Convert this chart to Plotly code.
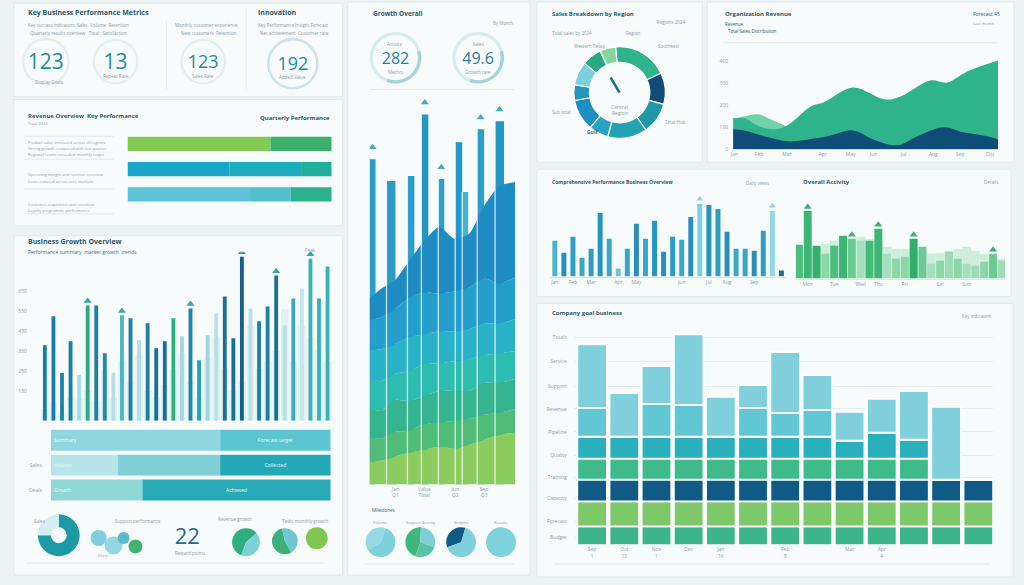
import plotly.graph_objects as go
import numpy as np

W, H = 1024, 585
FONT = "Open Sans"
GRAY = "#8b9ca5"
DARK = "#2e5667"

# ====================== DATA ======================
kpi_values = [123, 13, 123, 192]
kpi_labels = ["Display Goals", "Repeat Rate", "Sales Rate", "Added Value"]

perf_rows = ["Product sales", "Operating margin", "Customer growth"]
perf_part_a = [70, 50, 60]
perf_part_b = [30, 35, 20]
perf_part_c = [0, 15, 20]

growth_periods = list(range(1, 35))
growth_values = [380, 525, 240, 400, 230, 580, 580, 340, 240, 530, 515, 405, 490, 365, 400,
                 515, 425, 565, 305, 430, 540, 625, 415, 825, 565, 500, 575, 730, 480, 615,
                 665, 815, 615, 775]
growth_target = [60, 90, 40, 120, 110, 150, 100, 250, 120, 300, 200, 330, 150, 120, 180,
                 260, 340, 200, 120, 320, 420, 260, 150, 200, 480, 260, 300, 350, 560, 300,
                 480, 420, 360, 300]
growth_ticks = [150, 250, 350, 450, 550, 650]
growth_flags = [5, 9, 17, 23, 27, 31]

mix_rows = ["Leads", "Sales", "Deals"]
mix_a = [170, 67, 92]
mix_b = [111, 103, 189]
mix_c = [0, 111, 0]

share_main = [75, 25]
bubble_x = [1.0, 2.5, 3.5, 4.7]
bubble_y = [1.8, 1.1, 1.8, 1.0]
bubble_size = [16, 18, 12, 14]
reward_points = 22
revenue_split = [58, 42]
tasks_split = [55, 45]
growth_single = [1]

overall_kpis = [282, 49.6]
week_x = [0, 12, 25, 40, 55, 70, 85, 100, 115, 130, 146]
band_lime = [22, 24, 28, 32, 35, 38, 36, 40, 45, 50, 52]
band_green = [25, 22, 25, 22, 26, 24, 28, 26, 25, 22, 24]
band_jade = [30, 28, 32, 30, 28, 32, 30, 28, 32, 30, 30]
band_teal = [28, 30, 26, 30, 32, 28, 30, 32, 28, 30, 28]
band_cyan = [30, 32, 30, 34, 30, 32, 30, 30, 32, 30, 32]
band_azure = [30, 32, 35, 40, 42, 38, 40, 42, 45, 40, 42]
band_blue = [22, 29, 29, 37, 52, 67, 53, 54, 73, 98, 96]
column_x = [3, 21.5, 41.5, 55.5, 72, 89.5, 96, 111.5, 130.5]
column_h = [327, 305, 310, 372, 307, 344, 294, 357, 365]
column_flags = [0, 3, 4, 7, 8]
milestone_volume = [60, 40]
milestone_support = [45, 30, 25]
milestone_insights = [35, 65]
milestone_results = [1]

region_labels = ["Central", "North", "East", "Southeast", "South", "Gulf",
                 "Southwest", "West", "Northwest", "Pacific"]
region_values = [70, 40, 40, 50, 25, 40, 20, 30, 25, 20]

rev_total_x = [0, 11, 26, 38, 53, 78, 91, 120, 153, 168, 198, 215, 235, 266]
rev_total = [141, 141, 105, 91, 105, 195, 214, 282, 227, 241, 314, 305, 355, 405]
rev_prior_x = [0, 11, 26, 38, 53]
rev_prior = [141, 150, 159, 136, 105]
rev_core_x = [0, 11, 35, 55, 75, 95, 120, 141, 165, 185, 211, 231, 255, 266]
rev_core = [91, 86, 55, 36, 45, 59, 86, 45, 18, 59, 100, 77, 59, 45]
rev_ticks = [0, 100, 200, 300, 400]
rev_month_pos = [1, 26, 54, 90, 118, 141, 171, 201, 228, 258]
rev_months = ["Jan", "Feb", "Mar", "Apr", "May", "Jun", "Jul", "Aug", "Sep", "Oct"]

views_days = list(range(1, 27))
views_values = [36, 24, 40, 19, 28, 64, 38, 8, 28, 53, 38, 56, 25, 40, 37, 60, 73, 72,
                68, 45, 28, 28, 26, 46, 66, 6]
views_flags = [16, 24]

activity_days = list(range(1, 25))
activity_values = [34, 68, 33, 25, 33, 43, 40, 38, 38, 50, 25, 20, 22, 40, 32, 15, 18, 27,
                   20, 15, 13, 17, 25, 18]
activity_base = [30, 30, 30, 35, 38, 40, 38, 42, 40, 38, 32, 30, 30, 30, 28, 25, 26, 28,
                 30, 32, 28, 25, 22, 20]
activity_flags = [1, 6, 9, 13, 22]

goal_periods = list(range(1, 14))
goal_base = [19] * 13
goal_lime = [25] * 13
goal_navy = [22] * 13
goal_green = [21] * 11 + [0, 0]
goal_teal = [22, 22, 22, 22, 22, 22, 22, 22, 18, 26, 19, 0, 0]
goal_aqua = [29, 0, 33, 32, 0, 29, 24, 27, 0, 0, 0, 0, 0]
goal_sky = [64, 44, 38, 71, 40, 23, 61, 35, 29, 34, 49, 73, 0]
goal_labels = ["Budget", "Forecast", "Capacity", "Training", "Quality", "Pipeline",
               "Revenue", "Support", "Service", "Totals"]
goal_ticks = [8, 24, 47, 68, 90, 114, 137, 160, 185, 209]
goal_month_pos = [1, 2, 3, 4, 5, 7, 9, 10]
goal_months = ["Sep<br>1", "Oct<br>13", "Nov<br>1", "Dec", "Jan<br>16", "Feb<br>8", "Mar", "Apr<br>4"]

# ====================== HELPERS ======================
def xd(x0, x1):
    return [x0 / W, x1 / W]


def yd(y0, y1):
    return [1 - y1 / H, 1 - y0 / H]


def ax(domain, rng, anchor, **kw):
    d = dict(domain=domain, range=rng, anchor=anchor, showgrid=False, zeroline=False,
             showline=False, showticklabels=False, ticks="", fixedrange=True)
    d.update(kw)
    return d


def ann(x, y, text, size=5, color=GRAY, xanchor="left", bold=False):
    return dict(x=x / W, y=1 - y / H, xref="paper", yref="paper",
                text=f"<b>{text}</b>" if bold else text, showarrow=False,
                font=dict(size=size, color=color, family=FONT),
                xanchor=xanchor, yanchor="middle")


def rect(x0, y0, x1, y1, fill="#f8fbfc"):
    return dict(type="rect", xref="paper", yref="paper", x0=x0 / W, x1=x1 / W,
                y0=1 - y1 / H, y1=1 - y0 / H, fillcolor=fill,
                line=dict(color="#e0e9ec", width=1), layer="below")


def hline(x0, x1, y, color="#e1e9ec", width=1):
    return dict(type="line", xref="paper", yref="paper", x0=x0 / W, x1=x1 / W,
                y0=1 - y / H, y1=1 - y / H, line=dict(color=color, width=width), layer="below")


def vline(x, y0, y1, color="#e6eef0", width=1):
    return dict(type="line", xref="paper", yref="paper", x0=x / W, x1=x / W,
                y0=1 - y1 / H, y1=1 - y0 / H, line=dict(color=color, width=width), layer="below")


def pie(values, colors, cx, cy, r, hole=0.0, rotation=0, line_w=0.0):
    return go.Pie(values=values, marker=dict(colors=colors, line=dict(color="white", width=line_w)),
                  domain=dict(x=xd(cx - r, cx + r), y=yd(cy - r, cy + r)), hole=hole,
                  sort=False, direction="clockwise", rotation=rotation,
                  textinfo="none", hoverinfo="skip", showlegend=False)


def number(value, cx, cy, size, color, wpx=34, hpx=12):
    return go.Indicator(mode="number", value=value,
                        number=dict(font=dict(size=size, color=color, family=FONT)),
                        domain=dict(x=xd(cx - wpx, cx + wpx), y=yd(cy - hpx, cy + hpx)))


fig = go.Figure()
traces = []

# ---------- Panel A: KPI rings + numbers ----------
kpi_pos = [(42, 62, 24, 21), (112, 62, 23, 21), (200, 62, 23, 18), (290, 64, 26, 18)]
ring_cols = ["#e4eef1", "#e4eef1", "#e4eef1", "#cfe3e7"]
for (cx, cy, r, fs), val, rc in zip(kpi_pos, kpi_values, ring_cols):
    traces.append(pie([1], [rc], cx, cy, r, hole=0.9))
    traces.append(number(val, cx, cy - 1, fs, "#1f8c9e", wpx=22, hpx=9))

# ---------- Panel B: horizontal performance bars ----------
for vals, base, cols in [
    (perf_part_a, [0, 0, 0], ["#82c955", "#19a6c9", "#5cc4d6"]),
    (perf_part_b, perf_part_a, ["#3cb06b", "#1badbb", "#50c1cc"]),
    (perf_part_c, list(np.add(perf_part_a, perf_part_b)), ["#3cb06b", "#20b09a", "#2cb38c"]),
]:
    traces.append(go.Bar(y=perf_rows, x=vals, base=base, orientation="h", width=0.56,
                         marker=dict(color=cols, line=dict(width=0)),
                         xaxis="x9", yaxis="y9", hoverinfo="skip"))

# ---------- Panel C: growth bars ----------
growth_cols = ["#1a7ea6", "#1a7ea6", "#1f86a8", "#1a7ea6", "#a9dce3", "#2fa886", "#1f7fa5",
               "#1f8aab", "#b5e0e6", "#49b8c4", "#1f7fa5", "#b4dde4", "#1f7fa5", "#1a6f98",
               "#1a6f98", "#2fae83", "#a5d8df", "#1f86a8", "#2aa0bd", "#9ed5df", "#b8e2e8",
               "#1a6f98", "#1a6f98", "#14628c", "#b8e2e8", "#1f7fa5", "#1f7fa5", "#1a6f98",
               "#b5e0e6", "#3aa9bf", "#c5e6ea", "#3ab3b4", "#3ab3b4", "#3ab3b4"]
traces.append(go.Bar(x=growth_periods, y=growth_target, width=0.9,
                     marker=dict(color="#e1f2f4", line=dict(width=0)),
                     xaxis="x", yaxis="y", hoverinfo="skip"))
traces.append(go.Bar(x=growth_periods, y=growth_values, width=0.45,
                     marker=dict(color=growth_cols, line=dict(width=0)),
                     xaxis="x", yaxis="y", hoverinfo="skip"))
traces.append(go.Scatter(x=[growth_periods[i] for i in growth_flags],
                         y=[growth_values[i] + 22 for i in growth_flags], mode="markers",
                         marker=dict(symbol="triangle-up", size=7, color="#3aa69b"),
                         xaxis="x", yaxis="y", hoverinfo="skip"))

# ---------- Panel C: stacked mix bars ----------
mix_base_b = mix_a
mix_base_c = list(np.add(mix_a, mix_b))
for vals, base, cols, txt, anchor in [
    (mix_a, [0, 0, 0], ["#8fd6e0", "#b6e4e9", "#8fd7d5"], ["Summary", "Volume", "Growth"], "start"),
    (mix_b, mix_base_b, ["#5cc5d2", "#7fd0d6", "#27a9b6"], ["Forecast target", "", "Achieved"], "middle"),
    (mix_c, mix_base_c, ["#23a8b8", "#23a8b8", "#23a8b8"], ["", "Collected", ""], "middle"),
]:
    traces.append(go.Bar(y=mix_rows, x=vals, base=base, orientation="h", width=0.84,
                         marker=dict(color=cols, line=dict(width=0)), text=txt,
                         textposition="inside", insidetextanchor=anchor,
                         textfont=dict(size=5, color="#eaf8fa", family=FONT),
                         xaxis="x2", yaxis="y2", hoverinfo="skip"))

# ---------- Panel C: small charts ----------
traces.append(pie(share_main, ["#1b9aa5", "#d5eef0"], 55, 538, 21, hole=0.38))
traces.append(go.Scatter(x=bubble_x, y=bubble_y, mode="markers",
                         marker=dict(size=bubble_size, color=["#7ccbdb", "#8fd3e0", "#4fb6c9", "#3aad6e"],
                                     opacity=0.95, line=dict(width=0)),
                         xaxis="x3", yaxis="y3", hoverinfo="skip"))
traces.append(number(reward_points, 184, 538, 22, "#1d6d96", wpx=20, hpx=10))
traces.append(pie(revenue_split, ["#2daf80", "#7fcfd6"], 243, 545, 14, rotation=200))
traces.append(pie(tasks_split, ["#3bb07a", "#6fc6d1"], 282, 544, 13, rotation=150))
traces.append(pie(growth_single, ["#80c74f"], 314, 541, 11))

# ---------- Panel D: KPI rings ----------
for (cx, cy), val in zip([(393, 58), (476, 58)], overall_kpis):
    traces.append(pie([65, 35], ["#d8ecef", "#a4d3d9"], cx, cy, 26, hole=0.87, rotation=200))
    traces.append(number(val, cx, cy, 16, "#2b7f99", wpx=18, hpx=7))

# ---------- Panel D: columns + layered area ----------
column_cols = ["#2a9fc9", "#2b9cc4", "#2a9fc9", "#2496c3", "#2aa3c9", "#2497c4", "#43b5d0",
               "#2a9fc9", "#2496c3"]
column_w = [6, 9, 7, 7, 6, 7, 6, 7, 9]
traces.append(go.Bar(x=column_x, y=column_h, width=column_w,
                     marker=dict(color=column_cols, line=dict(width=0)),
                     xaxis="x4", yaxis="y4", hoverinfo="skip"))
band_cols = ["#8ccb5e", "#4fbc78", "#34b58f", "#2fbcb0", "#2ab2c8", "#249fcb", "#1e8cc2"]
for band, col in zip([band_lime, band_green, band_jade, band_teal, band_cyan, band_azure, band_blue],
                     band_cols):
    traces.append(go.Scatter(x=week_x, y=band, stackgroup="d", mode="lines",
                             line=dict(width=0, shape="spline", smoothing=0.6),
                             fillcolor=col, xaxis="x4", yaxis="y4", hoverinfo="skip"))
sep_x, sep_y = [], []
for cx, w, h in zip(column_x[1:], column_w[1:], column_h[1:]):
    e = cx - w / 2
    sep_x += [e, e, None]
    sep_y += [0, h, None]
traces.append(go.Scatter(x=sep_x, y=sep_y, mode="lines", line=dict(color="rgba(255,255,255,0.75)", width=1.3),
                         xaxis="x4", yaxis="y4", hoverinfo="skip"))
traces.append(go.Scatter(x=[column_x[i] for i in column_flags],
                         y=[column_h[i] + 12 for i in column_flags], mode="markers",
                         marker=dict(symbol="triangle-up", size=7, color="#4aa9bf"),
                         xaxis="x4", yaxis="y4", hoverinfo="skip"))

# ---------- Panel D: milestones ----------
traces.append(pie(milestone_volume, ["#7fd0dd", "#95d9e3"], 378, 545, 15, rotation=20))
traces.append(pie(milestone_support, ["#3cb87c", "#7fcfda", "#5cc2a5"], 418, 545, 15, rotation=200))
traces.append(pie(milestone_insights, ["#0f5a84", "#7fcfdc"], 459, 545, 15, rotation=250))
traces.append(pie(milestone_results, ["#7dd2de"], 499, 545, 15))

# ---------- Panel E: region donut ----------
region_cols = ["#2fb38a", "#0f4d77", "#1e98a8", "#21a3b3", "#2aa4c5", "#1e8fc0", "#2396b9",
               "#7dd0dc", "#2aa881", "#84d69c"]
traces.append(pie(region_values, region_cols, 618, 93, 46, hole=0.66, rotation=-5, line_w=1.2))

# ---------- Panel F: revenue area ----------
traces.append(go.Scatter(x=rev_prior_x, y=rev_prior, fill="tozeroy", mode="lines",
                         line=dict(width=0, shape="spline"), fillcolor="#72d0aa",
                         xaxis="x5", yaxis="y5", hoverinfo="skip"))
traces.append(go.Scatter(x=rev_total_x, y=rev_total, fill="tozeroy", mode="lines",
                         line=dict(width=0, shape="spline"), fillcolor="#2fb38b",
                         xaxis="x5", yaxis="y5", hoverinfo="skip"))
traces.append(go.Scatter(x=rev_core_x, y=rev_core, fill="tozeroy", mode="lines",
                         line=dict(width=0, shape="spline"), fillcolor="#0f4c78",
                         xaxis="x5", yaxis="y5", hoverinfo="skip"))

# ---------- Panel G: daily views bars ----------
views_cols = ["#49b3c9", "#2a8fb8", "#2f9cc2", "#3aa6c6", "#2f9cc2", "#2596be", "#3aa6c6",
              "#6fc3d3", "#3aa6c6", "#2a8fb8", "#3aa6c6", "#2596be", "#2a8fb8", "#2f9cc2",
              "#3aa6c6", "#2a8fb8", "#7fd0df", "#2596be", "#2f9cc2", "#2a8fb8", "#3aa6c6",
              "#3aa6c6", "#2a8fb8", "#2f9cc2", "#8fd8e4", "#1f6f95"]
traces.append(go.Bar(x=views_days, y=views_values, width=0.55,
                     marker=dict(color=views_cols, line=dict(width=0)),
                     xaxis="x6", yaxis="y6", hoverinfo="skip"))
traces.append(go.Scatter(x=[views_days[i] for i in views_flags],
                         y=[views_values[i] + 5 for i in views_flags], mode="markers",
                         marker=dict(symbol="triangle-up", size=6, color="#8fd3e0"),
                         xaxis="x6", yaxis="y6", hoverinfo="skip"))

# ---------- Panel G: activity bars ----------
activity_cols = ["#4cbf7e", "#3db574", "#35b06f", "#8dd6a8", "#4cbf7e", "#3db574", "#6ccb95",
                 "#a6dfbd", "#45bb7a", "#3db574", "#a6dfbd", "#8dd6a8", "#8dd6a8", "#2fae6c",
                 "#6ccb95", "#a6dfbd", "#8dd6a8", "#9edbb6", "#8dd6a8", "#a6dfbd", "#9edbb6",
                 "#8dd6a8", "#6ccb95", "#9edbb6"]
traces.append(go.Bar(x=activity_days, y=activity_base, width=1.0,
                     marker=dict(color="#cdeedd", line=dict(width=0)),
                     xaxis="x7", yaxis="y7", hoverinfo="skip"))
traces.append(go.Bar(x=activity_days, y=activity_values, width=0.9,
                     marker=dict(color=activity_cols, line=dict(width=0)),
                     xaxis="x7", yaxis="y7", hoverinfo="skip"))
traces.append(go.Scatter(x=[activity_days[i] for i in activity_flags],
                         y=[activity_values[i] + 4 for i in activity_flags], mode="markers",
                         marker=dict(symbol="triangle-up", size=7, color="#3bb07a"),
                         xaxis="x7", yaxis="y7", hoverinfo="skip"))

# ---------- Panel H: stacked goal bars ----------
goal_layers = [goal_base, goal_lime, goal_navy, goal_green, goal_teal, goal_aqua, goal_sky]
goal_cols = ["#3db58c", "#7dc96a", "#105a86", "#3fba8a", "#2ab0bd", "#62c7d4", "#7fd0dc"]
running = np.zeros(len(goal_periods))
for layer, col in zip(goal_layers, goal_cols):
    traces.append(go.Bar(x=goal_periods, y=layer, base=list(running), width=0.92,
                         marker=dict(color=col, line=dict(color="white", width=1.8)),
                         xaxis="x8", yaxis="y8", hoverinfo="skip"))
    running = running + np.array(layer)

for t in traces:
    fig.add_trace(t)

# ====================== LAYOUT ======================
tick_font = dict(size=5, color=GRAY, family=FONT)
layout = dict(
    width=W, height=H, margin=dict(l=0, r=0, t=0, b=0),
    paper_bgcolor="#edf3f5", plot_bgcolor="rgba(0,0,0,0)",
    showlegend=False, barmode="overlay", font=dict(family=FONT),
    # C growth bars
    xaxis=ax(xd(30, 330), [-0.28, 34.6], "y"),
    yaxis=ax(yd(253, 423), [0, 850], "x", showticklabels=True, tickvals=growth_ticks,
             tickfont=tick_font, ticklabelstandoff=6),
    # C mix bars
    xaxis2=ax(xd(47, 328), [0, 281], "y2"),
    yaxis2=ax(yd(430, 505), None, "x2", type="category", autorange="reversed",
              showticklabels=True, tickvals=mix_rows[1:], ticktext=mix_rows[1:],
              tickfont=tick_font, ticklabelstandoff=8),
    # C bubbles
    xaxis3=ax(xd(85, 145), [0, 6], "y3"),
    yaxis3=ax(yd(528, 560), [0, 3], "x3"),
    # D columns
    xaxis4=ax(xd(367, 513), [0, 146], "y4", showticklabels=True, tickvals=[26, 55, 86, 115],
              ticktext=["Jan<br>Q1", "Value<br>Total", "Jun<br>Q2", "Sep<br>Q3"],
              tickfont=tick_font),
    yaxis4=ax(yd(95, 487), [0, 392], "x4"),
    # F revenue area
    xaxis5=ax(xd(732, 998), [0, 266], "y5", showticklabels=True, tickvals=rev_month_pos,
              ticktext=rev_months, tickfont=tick_font, showline=True, linecolor="#cfdcdf"),
    yaxis5=ax(yd(45, 150), [0, 477], "x5", showticklabels=True, tickvals=rev_ticks,
              tickfont=tick_font, ticklabelstandoff=4),
    # G views
    xaxis6=ax(xd(548, 785), [0.45, 26.5], "y6", showticklabels=True,
              tickvals=[1, 3, 5, 8, 10, 15, 18, 20, 23],
              ticktext=["Jan", "Feb", "Mar", "Apr", "May", "Jun", "Jul", "Aug", "Sep"],
              tickfont=tick_font, showline=True, linecolor="#dde7ea"),
    yaxis6=ax(yd(195, 278), [0, 83], "x6"),
    # G activity
    xaxis7=ax(xd(795, 1005), [0.66, 24.36], "y7", showticklabels=True,
              tickvals=[2, 5, 8, 10, 13, 17, 20],
              ticktext=["Mon", "Tue", "Wed", "Thu", "Fri", "Sat", "Sun"],
              tickfont=tick_font, showline=True, linecolor="#dde7ea"),
    yaxis7=ax(yd(195, 280), [0, 85], "x7"),
    # H goals
    xaxis8=ax(xd(572, 993), [0.43, 13.46], "y8", showticklabels=True, tickvals=goal_month_pos,
              ticktext=goal_months, tickfont=tick_font),
    yaxis8=ax(yd(330, 548), [0, 218], "x8", showticklabels=True, tickvals=goal_ticks,
              ticktext=goal_labels, tickfont=tick_font, showgrid=True, gridcolor="#e6edf0",
              ticklabelstandoff=6),
    # B perf bars
    xaxis9=ax(xd(124, 329), [0, 100], "y9"),
    yaxis9=ax(yd(132, 208), None, "x9", type="category", autorange="reversed"),
)
layout["yaxis2"].pop("range")
layout["yaxis9"].pop("range")

shapes = [
    rect(10, 3, 340, 97), rect(10, 100, 340, 227), rect(10, 237, 340, 578),
    rect(345, 2, 528, 578), rect(535, 2, 701, 163), rect(706, 2, 1014, 163),
    rect(535, 170, 1011, 298), rect(535, 305, 1013, 580),
    vline(163, 20, 90), vline(243, 8, 90),
    hline(20, 110, 137), hline(20, 110, 160), hline(20, 110, 190), hline(20, 110, 215),
    hline(368, 513, 90), hline(362, 513, 567),
    hline(22, 322, 566), hline(552, 990, 567), hline(722, 998, 43),
    dict(type="line", xref="paper", yref="paper", x0=609 / W, y0=1 - 78 / H, x1=618 / W,
         y1=1 - 93 / H, line=dict(color="#17697f", width=2.5)),
]

annotations = [
    # Panel A
    ann(22, 13, "Key Business Performance Metrics", 7, DARK, bold=True),
    ann(22, 25, "Key success indicators  Sales  Volume  Retention", 4.5),
    ann(24, 33, "Quarterly results overview   Total   Satisfaction", 4.5),
    ann(170, 25, "Monthly customer experience", 4.5),
    ann(176, 33, "New customers  Retention", 4.5),
    ann(253, 13, "Innovation", 7, DARK, bold=True),
    ann(253, 25, "Key Performance Insight Forecast", 4.5),
    ann(255, 33, "Net achievement  Customer rate", 4.5),
    ann(45, 82, kpi_labels[0], 4.5, xanchor="center"),
    ann(112, 76, kpi_labels[1], 4.5, xanchor="center"),
    ann(200, 76, kpi_labels[2], 4.5, xanchor="center"),
    ann(290, 77, kpi_labels[3], 4.5, xanchor="center"),
    # Panel B
    ann(22, 117, "Revenue Overview  Key Performance", 6, DARK, bold=True),
    ann(22, 124, "Total 2024", 4, GRAY),
    ann(329, 119, "Quarterly Performance", 6, DARK, xanchor="right", bold=True),
    ann(22, 143, "Product sales increased across all regions", 4, GRAY),
    ann(22, 149, "Strong growth compared with last quarter", 4, GRAY),
    ann(22, 155, "Regional teams exceeded monthly target", 4, GRAY),
    ann(22, 175, "Operating margin and revenue overview", 4, GRAY),
    ann(22, 182, "Costs reduced across core markets", 4, GRAY),
    ann(22, 206, "Customer acquisition and retention", 4, GRAY),
    ann(22, 212, "Loyalty programme performance", 4, GRAY),
    # Panel C
    ann(22, 243, "Business Growth Overview", 7, DARK, bold=True),
    ann(22, 253, "Performance summary  market growth  trends", 5, "#2e6f87"),
    ann(300, 251, "Peak", 4.5, GRAY),
    ann(28, 524, "Sales", 4.5, GRAY),
    ann(135, 524, "Support performance", 4.5, GRAY, xanchor="center"),
    ann(92, 558, "Units", 4, GRAY),
    ann(187, 556, "Reward points", 4.5, GRAY, xanchor="center"),
    ann(232, 522, "Revenue growth", 4.5, GRAY, xanchor="center"),
    ann(302, 524, "Tasks monthly growth", 4.5, GRAY, xanchor="center"),
    # Panel D
    ann(368, 14, "Growth Overall", 6.5, DARK, bold=True),
    ann(513, 23, "By Month", 4.5, GRAY, xanchor="right"),
    ann(393, 44, "Activity", 4.5, GRAY, xanchor="center"),
    ann(393, 72, "Metrics", 4.5, GRAY, xanchor="center"),
    ann(476, 44, "Sales", 4.5, GRAY, xanchor="center"),
    ann(476, 72, "Growth rate", 4.5, GRAY, xanchor="center"),
    ann(367, 513, "Milestones", 4.5, DARK),
    ann(378, 525, "Volume", 4, GRAY, xanchor="center"),
    ann(418, 525, "Support Activity", 4, GRAY, xanchor="center"),
    ann(459, 525, "Insights", 4, GRAY, xanchor="center"),
    ann(499, 525, "Results", 4, GRAY, xanchor="center"),
    # Panel E
    ann(548, 14, "Sales Breakdown by Region", 6, DARK, bold=True),
    ann(686, 22, "Regions 2024", 4.5, GRAY, xanchor="right"),
    ann(548, 33, "Total sales by 2024", 4.5, GRAY),
    ann(622, 33, "Region", 4.5, GRAY),
    ann(655, 46, "Southeast", 4.5, GRAY),
    ann(570, 46, "Western Texas", 4.5, GRAY),
    ann(548, 113, "Sub total", 4.5, GRAY),
    ann(662, 123, "Total Hub", 4.5, GRAY),
    ann(618, 108, "Central", 5, GRAY, xanchor="center"),
    ann(618, 114, "Region", 5, GRAY, xanchor="center"),
    ann(583, 133, "Gulf", 5, "#2e6f87", bold=True),
    # Panel F
    ann(722, 14, "Organization Revenue", 6, DARK, bold=True),
    ann(722, 24, "Revenue", 4.5, DARK),
    ann(725, 31, "Total Sales Distribution", 4.5, DARK),
    ann(1002, 14, "Forecast 45", 5, DARK, xanchor="right"),
    ann(997, 24, "Last month", 4, GRAY, xanchor="right"),
    # Panel G
    ann(548, 183, "Comprehensive Performance Business Overview", 5, DARK, bold=True),
    ann(770, 184, "Daily views", 4.5, GRAY, xanchor="right"),
    ann(800, 183, "Overall Activity", 6, DARK, bold=True),
    ann(1000, 183, "Details", 4.5, GRAY, xanchor="right"),
    # Panel H
    ann(548, 315, "Company goal business", 6, DARK, bold=True),
    ann(993, 318, "Key indicators", 4.5, GRAY, xanchor="right"),
]

layout["shapes"] = shapes
layout["annotations"] = annotations
fig.update_layout(**layout)

fig.write_html("out.html", config={"displayModeBar": False, "staticPlot": True},
               post_script="document.body.style.margin='0';document.body.style.overflow='hidden';")
